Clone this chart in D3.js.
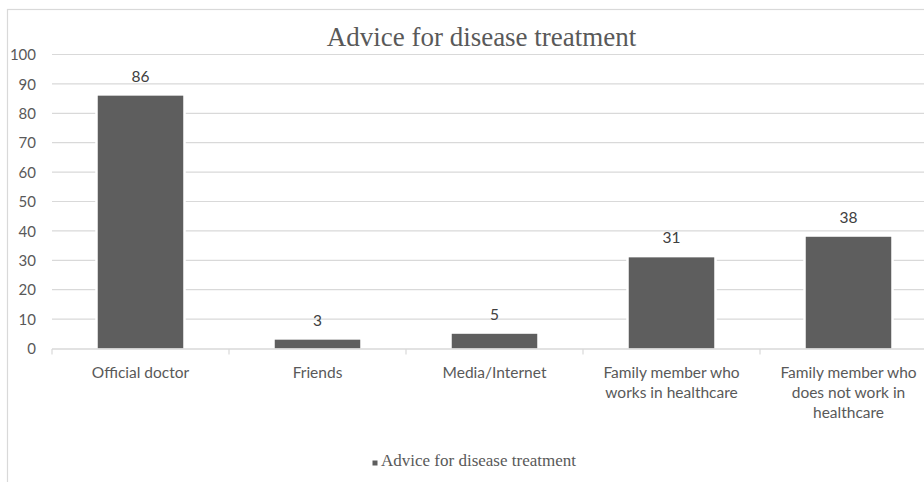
<!DOCTYPE html>
<html>
<head>
<meta charset="utf-8">
<script src="https://cdn.jsdelivr.net/npm/d3@7"></script>
<style>
  html, body { margin: 0; padding: 0; background: #fff; }
  svg { display: block; }
</style>
</head>
<body>
<svg id="chart" width="924" height="482"></svg>
<script>
// Data
const categories = [
  "Official doctor",
  "Friends",
  "Media/Internet",
  "Family member who\nworks in healthcare",
  "Family member who\ndoes not work in\nhealthcare"
];
const values = [86, 3, 5, 31, 38];
const yTicks = [0, 10, 20, 30, 40, 50, 60, 70, 80, 90, 100];
const chartTitle = "Advice for disease treatment";
const seriesName = "Advice for disease treatment";

const svg = d3.select("#chart");
const textColor = "#595959";
const gridColor = "#d9d9d9";
const barColor = "#5e5e5e";
const sans = "Lato, 'Open Sans', sans-serif";
const serif = "'Liberation Serif', 'Times New Roman', serif";

// Chart area frame
svg.append("rect")
  .attr("x", 7.5).attr("y", 9.5)
  .attr("width", 1000).attr("height", 600)
  .attr("fill", "#fff")
  .attr("stroke", gridColor)
  .attr("stroke-width", 1.2);

const x = d3.scaleBand()
  .domain(categories)
  .range([52, 937])
  .paddingInner(0.517)
  .paddingOuter(0.2585);

const y = d3.scaleLinear()
  .domain([0, 100])
  .range([348.5, 54.5]);

// Gridlines
svg.append("g")
  .selectAll("line")
  .data(yTicks.filter(d => d !== 0))
  .join("line")
  .attr("x1", 52).attr("x2", 937)
  .attr("y1", d => y(d)).attr("y2", d => y(d))
  .attr("stroke", gridColor)
  .attr("stroke-width", 1.2);

// Y axis labels
const yAxis = d3.axisLeft(y).tickValues(yTicks).tickSize(0).tickPadding(0);
const gy = svg.append("g").attr("transform", "translate(36,0)").call(yAxis);
gy.select(".domain").remove();
gy.selectAll("text")
  .attr("fill", textColor)
  .attr("font-family", sans)
  .attr("font-size", 15)
  .attr("dy", "0.35em");

// Bars (white halo cuts the gridlines around each bar)
const bars = svg.append("g");
bars.selectAll("rect.halo")
  .data(values)
  .join("rect")
  .attr("class", "halo")
  .attr("x", (d, i) => x(categories[i]) - 2.5)
  .attr("y", d => y(d) - 1)
  .attr("width", x.bandwidth() + 5)
  .attr("height", d => y(0) - y(d) + 1)
  .attr("fill", "#fff");
bars.selectAll("rect.bar")
  .data(values)
  .join("rect")
  .attr("class", "bar")
  .attr("x", (d, i) => x(categories[i]))
  .attr("y", d => y(d))
  .attr("width", x.bandwidth())
  .attr("height", d => y(0) - y(d))
  .attr("fill", barColor);

// X axis baseline with category boundary ticks
const xAxisG = svg.append("g");
xAxisG.append("line")
  .attr("x1", 52).attr("x2", 937)
  .attr("y1", y(0) + 0.5).attr("y2", y(0) + 0.5)
  .attr("stroke", gridColor)
  .attr("stroke-width", 1.4);
const boundaries = categories.map(c => x(c) - x.step() * x.paddingInner() / 2);
xAxisG.selectAll("line.tick")
  .data(boundaries)
  .join("line")
  .attr("class", "tick")
  .attr("x1", d => d).attr("x2", d => d)
  .attr("y1", y(0) + 0.5).attr("y2", y(0) + 6)
  .attr("stroke", gridColor)
  .attr("stroke-width", 1.2);

// Category labels
const catLabels = svg.append("g")
  .selectAll("text")
  .data(categories)
  .join("text")
  .attr("x", d => x(d) + x.bandwidth() / 2)
  .attr("y", 378)
  .attr("text-anchor", "middle")
  .attr("fill", textColor)
  .attr("font-family", sans)
  .attr("font-size", 15.5);
catLabels.each(function(d) {
  const t = d3.select(this);
  d.split("\n").forEach((line, i) => {
    t.append("tspan")
      .attr("x", x(d) + x.bandwidth() / 2)
      .attr("dy", i === 0 ? 0 : 20)
      .text(line);
  });
});

// Value labels
svg.append("g")
  .selectAll("text")
  .data(values)
  .join("text")
  .attr("x", (d, i) => x(categories[i]) + x.bandwidth() / 2)
  .attr("y", d => y(d) - 14)
  .attr("text-anchor", "middle")
  .attr("fill", "#404040")
  .attr("font-family", sans)
  .attr("font-size", 15.5)
  .text(d => d);

// Title
svg.append("text")
  .attr("x", 481.5)
  .attr("y", 45.5)
  .attr("text-anchor", "middle")
  .attr("fill", textColor)
  .attr("font-family", serif)
  .attr("font-size", 27)
  .text(chartTitle);

// Legend
const legend = svg.append("g");
legend.append("rect")
  .attr("x", 372.5).attr("y", 460.5)
  .attr("width", 5).attr("height", 5)
  .attr("fill", barColor);
legend.append("text")
  .attr("x", 381).attr("y", 466.3)
  .attr("fill", textColor)
  .attr("font-family", serif)
  .attr("font-size", 17)
  .text(seriesName);
</script>
</body>
</html>
